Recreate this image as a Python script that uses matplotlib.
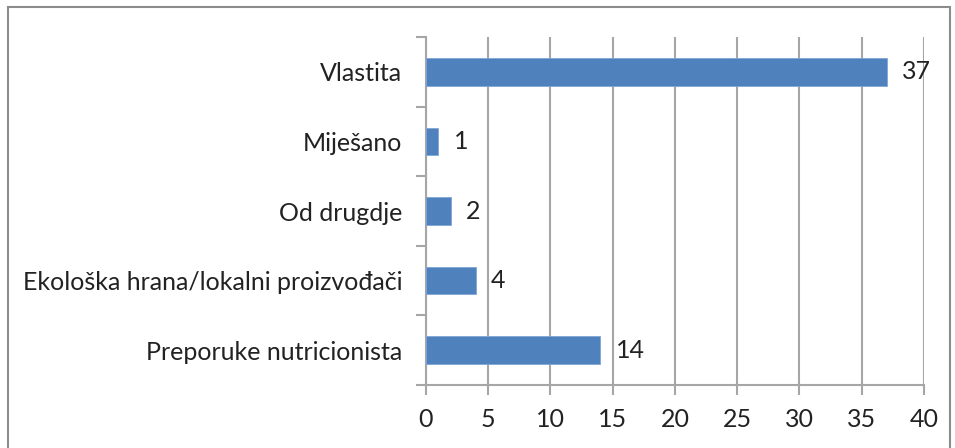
import matplotlib.pyplot as plt
from matplotlib.patches import Rectangle

categories = ["Preporuke nutricionista", "Ekološka hrana/lokalni proizvođači",
              "Od drugdje", "Miješano", "Vlastita"]
counts = [14, 4, 2, 1, 37]
xticks = [0, 5, 10, 15, 20, 25, 30, 35, 40]

BAR = "#4f81bd"
GRID = "#a6a6a6"
FS = 18

plt.rcParams["font.family"] = ["Lato", "DejaVu Sans"]

fig = plt.figure(figsize=(9.55, 4.48), dpi=100)
ax = fig.add_axes([0.446, 0.141, 0.5215, 0.776])

pos = list(range(len(categories)))
ax.barh(pos, counts, height=0.4, color=BAR, edgecolor="#7fa6d6", linewidth=0.6, zorder=3)
for y, v in zip(pos, counts):
    ax.annotate(str(v), (v, y), xytext=(11, 0), textcoords="offset points",
                va="center", ha="left", fontsize=FS, color="#222222")

ax.set_xlim(0, 40)
ax.set_ylim(-0.5, len(categories) - 0.5)
ax.set_xticks(xticks)
ax.set_xticklabels([str(t) for t in xticks], fontsize=FS, color="#222222")
ax.set_yticks(pos)
ax.set_yticklabels(categories, fontsize=FS, color="#222222")
ax.tick_params(axis="y", length=0, pad=17)
ax.tick_params(axis="x", length=7, width=1.5, color=GRID, pad=10, direction="out")

# tick marks between categories on the value axis
ax.set_yticks([i - 0.5 for i in range(len(categories) + 1)], minor=True)
ax.tick_params(axis="y", which="minor", length=7, width=1.5, color=GRID)

ax.xaxis.grid(True, color=GRID, linewidth=1.5, zorder=0)
for side in ["top", "right"]:
    ax.spines[side].set_visible(False)
for side in ["left", "bottom"]:
    ax.spines[side].set_color(GRID)
    ax.spines[side].set_linewidth(1.5)

# outer chart border
fig.patches.append(Rectangle((8 / 955, -0.05), 942 / 955, 1 - 7 / 448 + 0.05,
                             transform=fig.transFigure, fill=False,
                             edgecolor="#8c8c8c", linewidth=1.5))

fig.savefig("out.png", dpi=100)
